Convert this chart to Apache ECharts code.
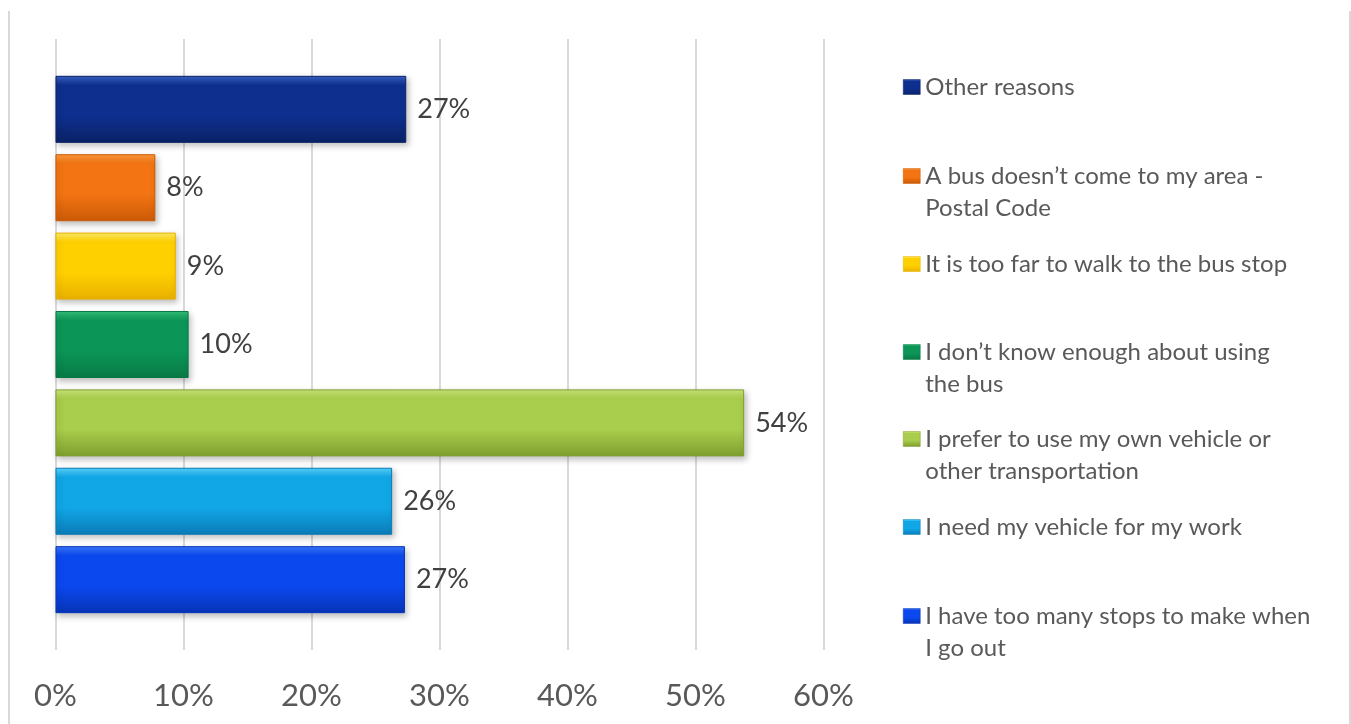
<!DOCTYPE html>
<html>
<head>
<meta charset="utf-8">
<script src="https://cdn.jsdelivr.net/npm/echarts@6/dist/echarts.min.js"></script>
<style>
  html, body { margin: 0; padding: 0; background: #ffffff; }
  #chart { width: 1351px; height: 724px; }
</style>
</head>
<body>
<div id="chart"></div>
<script>
// Reasons, listed top to bottom as in the chart / legend
const reasons = [
  'Other reasons',
  'A bus doesn\u2019t come to my area - Postal Code',
  'It is too far to walk to the bus stop',
  'I don\u2019t know enough about using the bus',
  'I prefer to use my own vehicle or other transportation',
  'I need my vehicle for my work',
  'I have too many stops to make when I go out'
];
// Legend text as wrapped in the reference
const legendLabels = [
  'Other reasons',
  'A bus doesn\u2019t come to my area -\nPostal Code',
  'It is too far to walk to the bus stop',
  'I don\u2019t know enough about using\nthe bus',
  'I prefer to use my own vehicle or\nother transportation',
  'I need my vehicle for my work',
  'I have too many stops to make when\nI go out'
];
// Share of respondents (fraction)
const shares = [0.274, 0.078, 0.094, 0.104, 0.538, 0.263, 0.273];
// x axis ticks
const xTicks = [0, 0.1, 0.2, 0.3, 0.4, 0.5, 0.6];

// bevel-like gradient colours per bar: [highlight, body, dark]
const palette = [
  ['#3a62c8', '#0e2f8e', '#0a2266'],
  ['#ff9b3a', '#f27412', '#cc5a06'],
  ['#fff06a', '#ffd000', '#e9b000'],
  ['#35c07a', '#0b9657', '#087a45'],
  ['#cde77a', '#a9cd4c', '#7f9f2e'],
  ['#5ad6ff', '#11a6e6', '#0a7cb8'],
  ['#3b78ff', '#0b48ee', '#0634b8']
];

const FONT = 'Lato, "Open Sans", sans-serif';

function grad(c, scale) {
  const s = scale || 1;
  return {
    type: 'linear', x: 0, y: 0, x2: 0, y2: 1,
    colorStops: [
      { offset: 0, color: c[0] },
      { offset: 0.14 * s, color: c[1] },
      { offset: 0.6 * s, color: c[1] },
      { offset: 1 * s, color: c[2] },
      { offset: 1, color: c[2] }
    ]
  };
}

const chart = echarts.init(document.getElementById('chart'), null, { renderer: 'canvas' });

const series = reasons.map((name, i) => ({
  name: name,
  type: 'bar',
  data: [shares[i]],
  barWidth: 67,
  barGap: '17%',
  itemStyle: {
    color: grad(palette[i]),
    borderColor: palette[i][2],
    borderWidth: 1,
    shadowColor: 'rgba(0,0,0,0.25)',
    shadowBlur: 6,
    shadowOffsetX: 2,
    shadowOffsetY: 3
  },
  label: {
    show: true,
    position: 'right',
    distance: 11,
    formatter: p => Math.round(p.value * 100) + '%',
    fontFamily: FONT,
    fontSize: 27,
    color: '#404040'
  },
  emphasis: { disabled: true },
  animation: false
}));

// first-line centre of each legend entry (layout)
const legendTop = [87, 176, 264, 352, 439, 527, 616];
const ICON_H = 15, LINE_H = 32;
// square icon on the first line; for two-line entries the icon box is stretched
// downwards by one line with an invisible move-to point so text stays aligned
const legends = reasons.map((n, i) => {
  const twoLine = legendLabels[i].indexOf('\n') >= 0;
  const itemH = twoLine ? ICON_H + LINE_H : ICON_H;
  return {
    orient: 'vertical',
    left: 903,
    top: legendTop[i] - LINE_H / 2,
    padding: 0,
    icon: twoLine ? 'path://M0,0L17,0L17,15L0,15Z M0,47' : 'rect',
    itemWidth: 17,
    itemHeight: itemH,
    selectedMode: false,
    textStyle: { fontFamily: FONT, fontSize: 24, color: '#595959', lineHeight: LINE_H },
    data: [{
      name: n,
      itemStyle: {
        color: grad(palette[i], ICON_H / itemH),
        borderColor: palette[i][2],
        borderWidth: 0.5,
        shadowBlur: 0
      }
    }],
    formatter: () => legendLabels[i]
  };
});

const option = {
  animation: false,
  backgroundColor: '#ffffff',
  grid: { left: 55.5, right: 527.5, top: 39, bottom: 74, containLabel: false },
  xAxis: {
    type: 'value',
    min: xTicks[0],
    max: xTicks[xTicks.length - 1],
    interval: 0.1,
    axisLine: { show: false },
    axisTick: { show: false },
    splitLine: { show: true, lineStyle: { color: '#d9d9d9', width: 2 } },
    axisLabel: {
      formatter: v => Math.round(v * 100) + '%',
      fontFamily: FONT,
      fontSize: 31,
      color: '#595959',
      margin: 30
    }
  },
  yAxis: {
    type: 'category',
    data: [''],
    axisLine: { show: false },
    axisTick: { show: false },
    axisLabel: { show: false }
  },
  legend: legends,
  graphic: [
    { type: 'line', shape: { x1: 9, y1: 11, x2: 9, y2: 724 }, style: { stroke: '#d9d9d9', lineWidth: 2 } },
    { type: 'line', shape: { x1: 1350, y1: 11, x2: 1350, y2: 724 }, style: { stroke: '#d9d9d9', lineWidth: 2 } }
  ],
  series: series
};

chart.setOption(option);
</script>
</body>
</html>
